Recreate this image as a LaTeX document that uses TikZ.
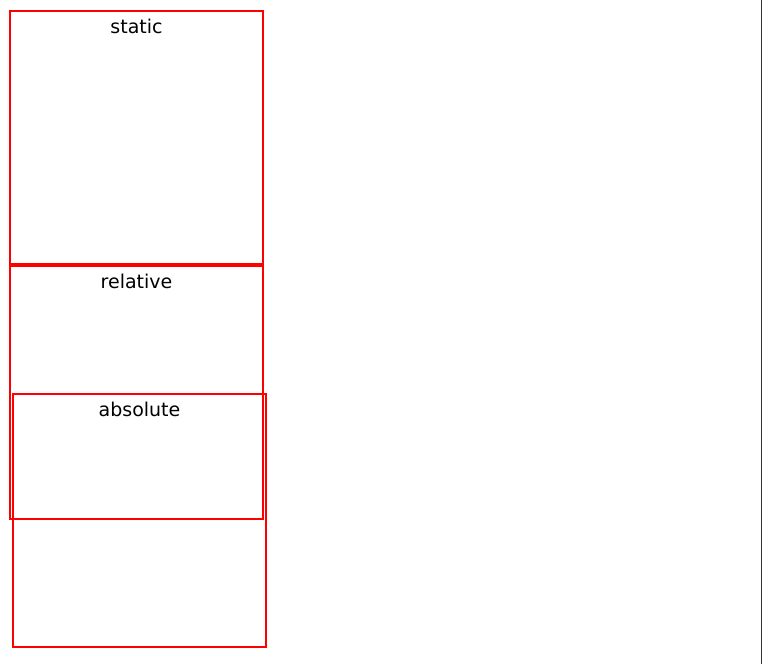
\documentclass[tikz,border=0pt]{standalone}
\usepackage{fontspec}
\setmainfont{DejaVu Sans}
\usetikzlibrary{positioning}
\newcommand{\boxnode}{node[draw=red, line width=2pt, minimum width=253pt, minimum height=253pt, inner sep=0pt, outer sep=0pt] }
\newcommand\tagnode[1]{node[anchor=base, inner sep=0pt, font=\fontsize{19}{23}\selectfont] {#1}}

\begin{document}
\begin{tikzpicture}[x=1pt, y=-1pt]
    \useasboundingbox (0,0) rectangle (762,664);

    % Рамки
    \path
        (136.5,137.5) \boxnode (static) {}
        (136.5,392.5) \boxnode (relative) {}
        (139.5,520.5) \boxnode (absolute) {};

    % Подписи
    \path
        ([yshift=-22.5pt]static.north) \tagnode{static}
        ([yshift=-22.5pt]relative.north) \tagnode{relative}
        ([yshift=-22.5pt]absolute.north) \tagnode{absolute};

    % Правый край
    \draw[black!80, line width=1pt] (761.5,0) -- (761.5,664);
\end{tikzpicture}
\end{document}
